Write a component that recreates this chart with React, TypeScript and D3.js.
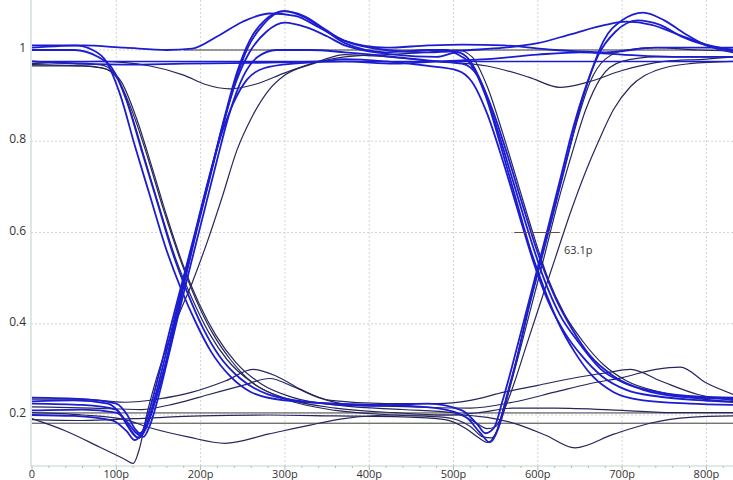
import { useEffect, useRef } from 'react';
import * as d3 from 'd3';

type Pt = [number, number];

// time ticks (ps) and level ticks
const xTicks = [0, 100, 200, 300, 400, 500, 600, 700, 800];
const xTickLabels = ['0', '100p', '200p', '300p', '400p', '500p', '600p', '700p', '800p'];
const yTicks = [0.2, 0.4, 0.6, 0.8, 1];
const yTickLabels = ['0.2', '0.4', '0.6', '0.8', '1'];

// eye traces: [time ps, level]
const trace01: Pt[] = [[0,1.005],[60,1.01],[110,1.005],[160,1.0],[190,1.003],[220,1.03],[250,1.062],[282,1.08],[312,1.075],[340,1.05],[371,1.02],[420,1.0],[470,0.995],[520,1.0],[560,1.005],[600,1.015],[640,1.035],[680,1.055],[705,1.062],[735,1.055],[765,1.035],[800,1.012],[832,1.0]];
const trace02: Pt[] = [[0,0.97],[80,0.975],[140,0.965],[180,0.945],[205,0.925],[235,0.915],[265,0.925],[300,0.95],[340,0.975],[371,0.99],[420,0.985],[480,0.975],[540,0.965],[590,0.94],[626,0.918],[660,0.93],[700,0.955],[750,0.975],[800,0.98],[832,0.985]];
const trace03: Pt[] = [[0,1.01],[50,1.01],[72,1.0],[88,0.975],[105,0.9],[122,0.79],[140,0.68],[158,0.57],[176,0.48],[195,0.4],[212,0.34],[235,0.285],[260,0.25],[300,0.232],[360,0.225],[420,0.222],[480,0.215],[515,0.195],[532,0.16],[543,0.14],[553,0.17],[563,0.24],[576,0.33],[590,0.44],[604,0.54],[618,0.64],[633,0.75],[648,0.86],[663,0.95],[678,1.02],[700,1.065],[725,1.082],[750,1.065],[775,1.035],[800,1.01],[832,0.995]];
const trace04: Pt[] = [[0,0.23],[50,0.232],[90,0.225],[108,0.195],[118,0.165],[126,0.15],[136,0.175],[146,0.23],[158,0.31],[170,0.41],[184,0.52],[198,0.63],[213,0.74],[228,0.85],[243,0.95],[258,1.02],[276,1.065],[300,1.085],[325,1.07],[350,1.04],[371,1.015],[420,0.995],[470,1.0],[492,1.0],[505,0.99],[520,0.97],[538,0.9],[556,0.79],[573,0.68],[590,0.57],[607,0.48],[625,0.4],[643,0.34],[665,0.285],[690,0.25],[725,0.232],[780,0.225],[832,0.222]];
const trace05: Pt[] = [[0,0.19],[60,0.188],[120,0.192],[200,0.198],[280,0.2],[360,0.198],[440,0.196],[490,0.19],[515,0.17],[530,0.15],[540,0.14],[550,0.16],[560,0.22],[573,0.31],[587,0.42],[601,0.52],[615,0.62],[630,0.73],[646,0.84],[662,0.93],[680,0.98],[705,1.0],[740,1.005],[790,1.0],[832,0.998]];
const trace06: Pt[] = [[0,0.975],[60,0.97],[110,0.968],[180,0.97],[260,0.972],[340,0.975],[371,0.98],[420,0.975],[470,0.965],[505,0.955],[522,0.93],[540,0.86],[558,0.76],[576,0.65],[594,0.54],[612,0.45],[632,0.38],[652,0.33],[676,0.285],[705,0.255],[745,0.24],[795,0.232],[832,0.228]];
const trace07: Pt[] = [[0,0.2],[50,0.198],[95,0.188],[112,0.165],[122,0.145],[130,0.16],[140,0.215],[152,0.3],[164,0.39],[178,0.49],[192,0.59],[207,0.7],[222,0.8],[238,0.88],[255,0.935],[275,0.96],[310,0.97],[371,0.975],[430,0.97],[480,0.975],[540,0.98],[600,0.99],[650,0.995],[700,0.99],[760,0.985],[832,0.985]];
const trace08: Pt[] = [[0,0.965],[60,0.965],[85,0.96],[102,0.935],[120,0.86],[138,0.76],[156,0.65],[175,0.545],[194,0.455],[214,0.38],[236,0.32],[262,0.27],[300,0.237],[360,0.215],[430,0.205],[490,0.2],[530,0.205],[570,0.215],[620,0.215],[700,0.21],[760,0.205],[832,0.205]];
const trace09: Pt[] = [[0,0.205],[60,0.2],[110,0.19],[140,0.172],[185,0.152],[229,0.138],[280,0.158],[330,0.178],[370,0.192],[430,0.2],[500,0.2],[540,0.195],[575,0.18],[610,0.155],[644,0.128],[690,0.158],[733,0.182],[780,0.195],[832,0.198]];
const trace10: Pt[] = [[0,0.192],[40,0.165],[80,0.13],[110,0.103],[120,0.094],[128,0.13],[136,0.2],[146,0.27],[158,0.34],[172,0.41],[190,0.49],[208,0.58],[226,0.68],[243,0.78],[260,0.85],[280,0.91],[300,0.945],[330,0.968],[371,0.985],[420,0.99],[470,0.995],[505,1.0],[522,0.985],[540,0.92],[558,0.82],[576,0.71],[594,0.6],[612,0.5],[632,0.42],[654,0.36],[678,0.31],[705,0.275],[745,0.25],[795,0.235],[832,0.23]];
const trace11: Pt[] = [[0,0.238],[60,0.235],[100,0.225],[113,0.2],[122,0.17],[128,0.16],[136,0.18],[146,0.24],[157,0.32],[170,0.42],[183,0.52],[197,0.62],[212,0.73],[227,0.84],[242,0.93],[258,0.995],[278,1.04],[300,1.06],[325,1.05],[350,1.03],[371,1.01],[430,0.99],[480,0.985],[505,0.995],[518,0.98],[535,0.92],[553,0.82],[571,0.71],[589,0.6],[607,0.5],[626,0.42],[648,0.36],[675,0.3],[703,0.27],[743,0.25],[793,0.24],[832,0.238]];
const trace12: Pt[] = [[0,0.975],[50,0.97],[80,0.968],[98,0.95],[116,0.87],[134,0.76],[152,0.65],[170,0.545],[190,0.455],[210,0.38],[232,0.32],[262,0.27],[300,0.235],[360,0.21],[430,0.2],[490,0.195],[520,0.175],[535,0.152],[545,0.15],[556,0.185],[567,0.26],[580,0.35],[594,0.45],[608,0.55],[623,0.66],[640,0.77],[657,0.87],[675,0.94],[700,0.975],[740,0.985],[790,0.985],[832,0.985]];
const trace13: Pt[] = [[0,1.0],[50,1.0],[78,0.985],[95,0.96],[112,0.89],[130,0.78],[148,0.67],[166,0.56],[184,0.47],[203,0.39],[222,0.33],[247,0.28],[280,0.245],[330,0.228],[400,0.22],[470,0.225],[510,0.21],[528,0.18],[538,0.16],[548,0.172],[558,0.23],[570,0.31],[584,0.41],[598,0.51],[612,0.61],[627,0.72],[642,0.83],[657,0.92],[672,0.99],[692,1.04],[718,1.065],[745,1.055],[770,1.03],[800,1.01],[832,1.0]];
const trace14: Pt[] = [[0,0.225],[60,0.222],[100,0.212],[112,0.18],[120,0.158],[127,0.15],[135,0.17],[145,0.225],[157,0.3],[169,0.39],[182,0.5],[196,0.61],[211,0.72],[226,0.83],[241,0.93],[256,1.005],[274,1.055],[298,1.085],[322,1.075],[348,1.045],[371,1.02],[420,1.005],[470,1.01],[510,1.012],[560,1.01],[620,1.0],[680,0.995],[740,1.005],[832,1.005]];
const trace15: Pt[] = [[0,0.235],[60,0.235],[110,0.228],[150,0.235],[190,0.25],[230,0.275],[262,0.3],[290,0.285],[320,0.255],[354,0.232],[420,0.225],[480,0.225],[520,0.232],[560,0.25],[600,0.265],[640,0.28],[680,0.292],[710,0.3],[745,0.275],[790,0.245],[832,0.232]];
const trace16: Pt[] = [[0,0.218],[70,0.215],[130,0.212],[170,0.225],[210,0.245],[250,0.265],[282,0.28],[310,0.262],[340,0.238],[380,0.222],[450,0.218],[520,0.215],[570,0.228],[620,0.25],[660,0.268],[700,0.282],[740,0.3],[769,0.305],[800,0.27],[832,0.245]];
const trace17: Pt[] = [[0,0.968],[60,0.965],[88,0.958],[106,0.93],[124,0.85],[142,0.745],[160,0.635],[179,0.53],[198,0.445],[218,0.375],[242,0.315],[272,0.268],[310,0.238],[370,0.22],[440,0.212],[500,0.205],[525,0.185],[540,0.17],[550,0.175],[560,0.21],[572,0.27],[586,0.35],[602,0.44],[620,0.54],[638,0.64],[656,0.73],[672,0.8],[690,0.87],[710,0.92],[740,0.955],[780,0.97],[832,0.975]];
const trace18: Pt[] = [[0,0.21],[60,0.212],[100,0.205],[114,0.182],[124,0.16],[132,0.152],[140,0.178],[150,0.24],[162,0.33],[175,0.43],[189,0.535],[204,0.645],[219,0.755],[234,0.86],[250,0.94],[268,0.985],[290,1.0],[330,1.0],[371,0.995],[430,0.985],[480,0.975],[510,0.97],[528,0.945],[546,0.87],[564,0.77],[582,0.66],[600,0.555],[620,0.46],[640,0.39],[662,0.33],[690,0.285],[725,0.255],[770,0.24],[832,0.235]];

// straight level lines
const flatHiA: Pt[] = [[180,1.0],[832,1.0]];
const flatHiB: Pt[] = [[0,0.975],[832,0.975]];
const flatLoA: Pt[] = [[0,0.2045],[832,0.2045]];
const flatLoB: Pt[] = [[0,0.182],[832,0.182]];

const navyTraces = [trace02, trace05, trace08, trace09, trace10, trace12, trace15, trace16, trace17];
const blueTraces = [trace01, trace03, trace04, trace06, trace07, trace11, trace13, trace14, trace18];
const darkFlats = [flatHiA, flatLoA, flatLoB];
const blueFlats = [flatHiB];

// width measurement marker
const markerSpan = [572, 626];
const markerLevel = 0.6;
const markerText = '63.1p';
const markerTextPos: Pt = [631, 0.562];

const App = () => {
    const svgRef = useRef<SVGSVGElement>(null);

    useEffect(() => {
        const svg = d3.select(svgRef.current);
        svg.selectAll('*').remove();

        const width = 733;
        const plotBottom = 466;
        const plotLeft = 31;

        const x = d3.scaleLinear().domain([0, 832]).range([32, 733.4]);
        const y = d3.scaleLinear().domain([0.2, 1]).range([415, 50]);

        svg.append('defs')
            .append('clipPath')
            .attr('id', 'plot-clip')
            .append('rect')
            .attr('x', plotLeft)
            .attr('y', 0)
            .attr('width', width - plotLeft)
            .attr('height', plotBottom);

        // grid
        const grid = svg.append('g');
        grid.selectAll('.vgrid')
            .data(xTicks.slice(1))
            .enter()
            .append('line')
            .attr('x1', (d) => x(d))
            .attr('x2', (d) => x(d))
            .attr('y1', 0)
            .attr('y2', plotBottom)
            .attr('stroke', '#d4d4d4')
            .attr('stroke-width', 1)
            .attr('stroke-dasharray', '2,2');
        grid.selectAll('.hgrid')
            .data(yTicks)
            .enter()
            .append('line')
            .attr('x1', plotLeft)
            .attr('x2', width)
            .attr('y1', (d) => y(d))
            .attr('y2', (d) => y(d))
            .attr('stroke', '#d4d4d4')
            .attr('stroke-width', 1)
            .attr('stroke-dasharray', '2,2');

        // axis lines
        svg.append('line')
            .attr('x1', plotLeft).attr('x2', plotLeft)
            .attr('y1', 0).attr('y2', plotBottom)
            .attr('stroke', '#c4d8cc').attr('stroke-width', 1.2);
        svg.append('line')
            .attr('x1', plotLeft).attr('x2', width)
            .attr('y1', plotBottom).attr('y2', plotBottom)
            .attr('stroke', '#c4d8cc').attr('stroke-width', 1.2);

        // small ticks on the time axis
        svg.append('g')
            .selectAll('line')
            .data(d3.range(0, 832, 20))
            .enter()
            .append('line')
            .attr('x1', (d) => x(d))
            .attr('x2', (d) => x(d))
            .attr('y1', plotBottom)
            .attr('y2', (d) => plotBottom + (d % 100 === 0 ? 4 : 2))
            .attr('stroke', '#b0bdb5')
            .attr('stroke-width', 1);

        svg.append('g')
            .selectAll('text')
            .data(xTicks)
            .enter()
            .append('text')
            .attr('x', (d) => x(d))
            .attr('y', 478)
            .attr('text-anchor', 'middle')
            .attr('font-family', 'Open Sans, sans-serif')
            .attr('font-size', '11px')
            .attr('fill', '#333')
            .text((d, i) => xTickLabels[i]);

        svg.append('g')
            .selectAll('text')
            .data(yTicks)
            .enter()
            .append('text')
            .attr('x', 26)
            .attr('y', (d) => y(d) + 2)
            .attr('text-anchor', 'end')
            .attr('font-family', 'Open Sans, sans-serif')
            .attr('font-size', '12px')
            .attr('fill', '#333')
            .text((d, i) => yTickLabels[i]);

        const line = d3
            .line<Pt>()
            .x((d) => x(d[0]))
            .y((d) => y(d[1]))
            .curve(d3.curveMonotoneX);

        const traces = svg.append('g').attr('clip-path', 'url(#plot-clip)');

        darkFlats.forEach((d) => {
            traces.append('path').datum(d).attr('d', line).attr('fill', 'none')
                .attr('stroke', '#3a3a3a').attr('stroke-width', 1);
        });
        navyTraces.forEach((d) => {
            traces.append('path').datum(d).attr('d', line).attr('fill', 'none')
                .attr('stroke', '#26265c').attr('stroke-width', 1.2);
        });
        blueFlats.forEach((d) => {
            traces.append('path').datum(d).attr('d', line).attr('fill', 'none')
                .attr('stroke', '#1c1cd0').attr('stroke-width', 1.5);
        });
        blueTraces.forEach((d) => {
            traces.append('path').datum(d).attr('d', line).attr('fill', 'none')
                .attr('stroke', '#1c1cd0').attr('stroke-width', 1.8);
        });

        // width marker
        svg.append('line')
            .attr('x1', x(markerSpan[0]))
            .attr('x2', x(markerSpan[1]))
            .attr('y1', y(markerLevel))
            .attr('y2', y(markerLevel))
            .attr('stroke', '#6e4545')
            .attr('stroke-width', 1);
        svg.append('text')
            .attr('x', x(markerTextPos[0]))
            .attr('y', y(markerTextPos[1]) + 4)
            .attr('font-family', 'Open Sans, sans-serif')
            .attr('font-size', '11px')
            .attr('fill', '#333')
            .text(markerText);
    }, []);

    return (
        <svg
            ref={svgRef}
            width={733}
            height={480}
            style={{ position: 'absolute', left: 0, top: 0, background: '#fff' }}
        ></svg>
    );
};

export default App;
